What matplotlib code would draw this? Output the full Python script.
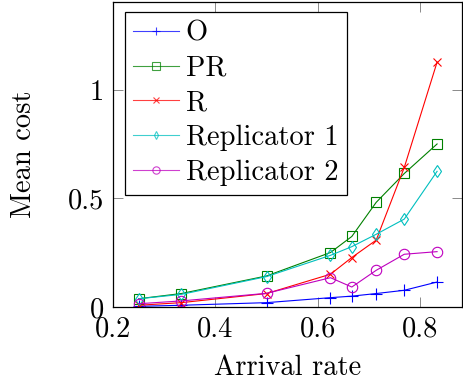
import matplotlib
matplotlib.use("Agg")
import matplotlib.pyplot as plt

x = [0.25, 0.3333, 0.5, 0.625, 0.6667, 0.7143, 0.7692, 0.8333]
o_vals = [0.003, 0.008, 0.02, 0.043, 0.05, 0.062, 0.077, 0.115]
pr_vals = [0.038, 0.062, 0.143, 0.251, 0.325, 0.482, 0.615, 0.751]
r_vals = [0.008, 0.02, 0.062, 0.151, 0.228, 0.308, 0.643, 1.128]
rep1_vals = [0.038, 0.058, 0.14, 0.238, 0.278, 0.335, 0.405, 0.625]
rep2_vals = [0.015, 0.028, 0.063, 0.135, 0.092, 0.169, 0.243, 0.255]
labels = ["O", "PR", "R", "Replicator 1", "Replicator 2"]
xticks = [0.2, 0.4, 0.6, 0.8]
yticks = [0, 0.5, 1]
yticklabels = ["0", "0.5", "1"]

FS = 20.5
plt.rcParams['font.family'] = ['cmr10', 'DejaVu Serif']
plt.rcParams['axes.formatter.use_mathtext'] = True
plt.rcParams['font.size'] = FS

fig = plt.figure(figsize=(4.64, 3.85), dpi=100)
ax = fig.add_axes([0.2435, 0.2026, 0.7522, 0.7922])

series = [o_vals, pr_vals, r_vals, rep1_vals, rep2_vals]
colors = ["#0000ff", "#008000", "#ff0000", "#00bfbf", "#bf00bf"]
markers = ["+", "s", "x", "d", "o"]
msizes = [8, 7.5, 6, 6, 7.5]
for vals, lab, c, m, ms in zip(series, labels, colors, markers, msizes):
    ax.plot(x, vals, color=c, marker=m, markersize=ms, markerfacecolor='none',
            markeredgecolor=c, markeredgewidth=0.8, linewidth=0.8, label=lab)

ax.set_xlim(0.2, 0.882)
ax.set_ylim(0, 1.405)
ax.set_xticks(xticks)
ax.set_xticklabels([str(t) for t in xticks])
ax.set_yticks(yticks)
ax.set_yticklabels(yticklabels)
ax.tick_params(direction='in', top=True, right=True, length=7, width=0.6,
               color='#777777', labelsize=FS, pad=6.5)
for s in ax.spines.values():
    s.set_linewidth(0.9)
ax.set_xlabel("Arrival rate", fontsize=FS, labelpad=9)
ax.set_ylabel("Mean cost", fontsize=FS, labelpad=22)

leg = ax.legend(loc='upper left', bbox_to_anchor=(0.033, 0.968), fancybox=False,
                edgecolor='black', framealpha=1, fontsize=FS, handlelength=1.6,
                borderpad=0.3, labelspacing=0.3, handletextpad=0.25,
                borderaxespad=0, markerscale=0.7)
leg.get_frame().set_linewidth(0.9)
for h in leg.get_lines():
    h.set_alpha(0.75)

fig.savefig("out.png", dpi=100)
